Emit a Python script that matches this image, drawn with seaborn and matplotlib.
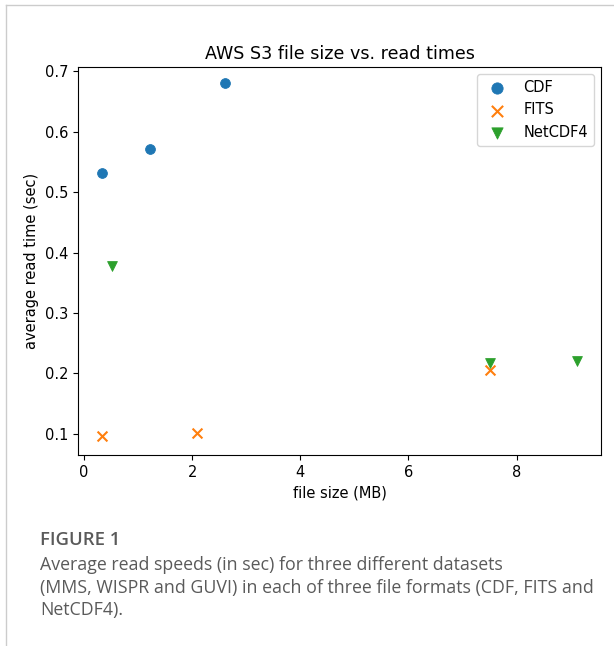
import matplotlib
matplotlib.use('Agg')
import matplotlib.pyplot as plt
import seaborn as sns
import pandas as pd
from matplotlib.lines import Line2D

# read-time results per file format
formats = ["CDF", "FITS", "NetCDF4"]
cdf_size = [0.33, 1.22, 2.60]
cdf_time = [0.531, 0.571, 0.681]
fits_size = [0.33, 2.09, 7.50]
fits_time = [0.096, 0.102, 0.205]
nc4_size = [0.52, 7.50, 9.11]
nc4_time = [0.377, 0.217, 0.221]

caption_head = "FIGURE 1"
caption_lines = [
    "Average read speeds (in sec) for three different datasets",
    "(MMS, WISPR and GUVI) in each of three file formats (CDF, FITS and",
    "NetCDF4).",
]

df = pd.DataFrame({
    "size": cdf_size + fits_size + nc4_size,
    "time": cdf_time + fits_time + nc4_time,
    "format": ["CDF"] * 3 + ["FITS"] * 3 + ["NetCDF4"] * 3,
})

W, H = 614, 646
fig = plt.figure(figsize=(W / 100, H / 100), dpi=100)
ax = fig.add_axes([78 / W, 1 - 455 / H, (601 - 78) / W, (455 - 67) / H])

markers = {"CDF": "o", "FITS": "x", "NetCDF4": "v"}
colors = {"CDF": "#1f77b4", "FITS": "#ff7f0e", "NetCDF4": "#2ca02c"}
for fmt in formats:
    sub = df[df["format"] == fmt]
    kw = {"edgecolor": "face"} if fmt != "FITS" else {"linewidth": 1.5}
    sns.scatterplot(data=sub, x="size", y="time", ax=ax, marker=markers[fmt],
                    color=colors[fmt], s=50, label=fmt, legend=False, **kw)

ax.set_xlim(-0.11, 9.56)
ax.set_ylim(0.065, 0.707)
ax.set_xticks([0, 2, 4, 6, 8])
ax.set_yticks([0.1, 0.2, 0.3, 0.4, 0.5, 0.6, 0.7])
ax.tick_params(labelsize=10.5)
ax.set_xlabel("file size (MB)", fontsize=10.5)
ax.set_ylabel("average read time (sec)", fontsize=10.5)
ax.set_title("AWS S3 file size vs. read times", fontsize=12.6)
ax.legend(loc="upper right", fontsize=10.5, markerscale=1.15)

# caption below the plot
fig.text(40 / W, 1 - 540 / H, caption_head, fontsize=13.3, family="Open Sans",
         color="#5a5a5a", va="center", weight="semibold")
for i, line in enumerate(caption_lines):
    fig.text(40 / W, 1 - (565 + 22.5 * i) / H, line, fontsize=12.8,
             family="Open Sans", color="#5a5a5a", va="center")

# page frame
fig.add_artist(Line2D([6 / W, 1], [1 - 5 / H, 1 - 5 / H], color="#cccccc", lw=1))
fig.add_artist(Line2D([6 / W, 6 / W], [0, 1 - 5 / H], color="#cccccc", lw=1))

fig.savefig("out.png", dpi=100)
